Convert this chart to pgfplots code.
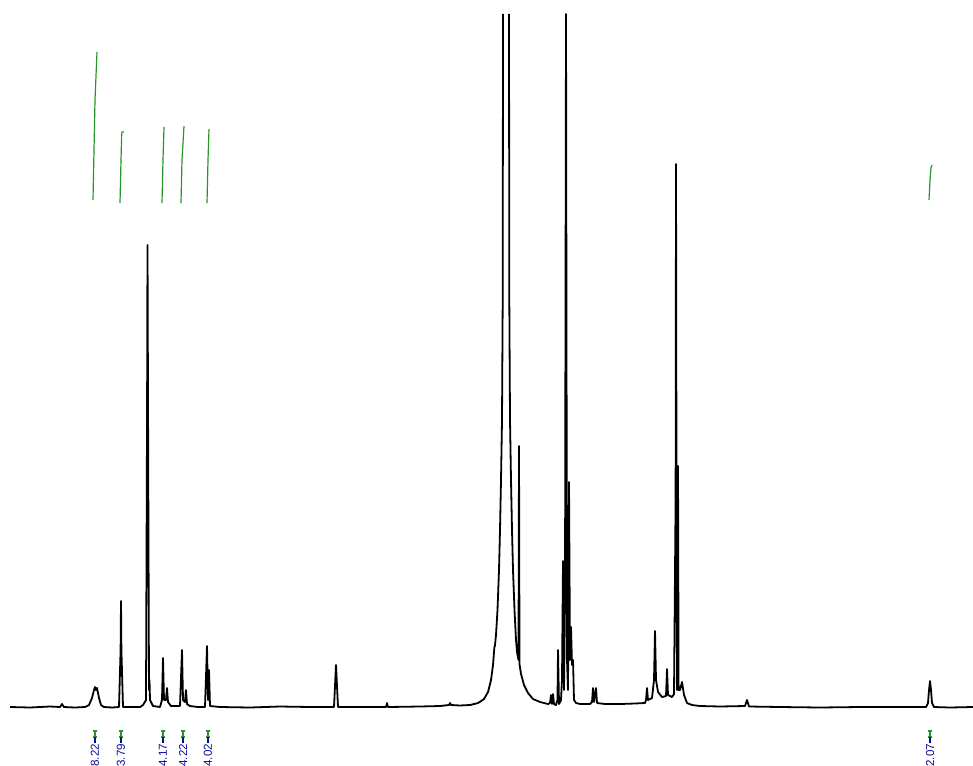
\documentclass[border=0pt]{standalone}
\usepackage{fontspec}
\setmainfont{Liberation Sans}
\usepackage{pgfplots}
\pgfplotsset{compat=1.18}
\definecolor{integ}{RGB}{40,150,40}
\definecolor{lab}{RGB}{10,10,150}
\begin{document}
\begin{tikzpicture}
\begin{axis}[
  scale only axis, width=486.5pt, height=382.5pt,
  xmin=0, xmax=973, ymin=0, ymax=765, y dir=reverse,
  axis lines=none, clip=false,
]
% spectrum, left of the solvent peak
\addplot[black, line width=0.9pt, line join=round] coordinates {
(10,707)(30,707.5)(50,706.5)(60,707)(62,704)(64,707)(75,707.5)(85,707)(89,705)(92,698)(94,690)(95,687)(96,690)(97,688)(99,698)(101,705)(104,707)
(112,707.5)(119,707)(120.6,650)(121,601)(121.4,650)(123,707)(135,707)(140,707)(143,705)(146,700)(147.1,400)(147.5,245)(148,400)(149,690)(149.5,680)(150,700)(153,706)(160,707)
(162,700)(163,658)(164,700)(166,700)(167,688)(168,702)(171,706)(180,706)(182,650)(183,700)(185,702)(186,690)(187,704)(190,706)(198,707)(205,707)(207,646)(208,700)(209,670)(210,706)(220,707)
(250,707.5)(280,706.5)(310,707)(334,707)(336,665)(338,707)(360,707)(386,707)(387,703)(388,707)(420,706.5)(440,706)(449,705)(450,703)(451,705)(460,705.5)(470,705)(478,703)(484,699)(488,692)(491,680)(493,665)(494.3,648)(495,645)(496,635)(497.5,610)(499,570)(500,530)(501,480)(502,420)(502.7,300)(503,14)
};
% spectrum, right of the solvent peak
\addplot[black, line width=0.9pt, line join=round] coordinates {
(509,14)(509.3,300)(510,420)(511,480)(512,530)(513,570)(514.5,610)(516,640)(517,652)(518.5,660)(519,446)(519.5,664)(521,674)(524,685)(528,693)(533,699)(540,702)(548,704)
(550,703)(551,695)(552,704)(553,694)(554,704)(556,705)(557.5,700)(558,650)(559,704)(561,700)(562,680)(563,561)(564,690)(565,600)(566,14)(567,660)(568,690)(569,482)(570,660)(571,627)(572,665)(573,660)(574,700)(576,703)(580,704)
(590,704)(592,702)(593,688)(594,702)(596,688)(597,703)(605,704)(620,704)(635,703.5)(645,703)(646,700)(647,688)(648,700)(652,698)(654,680)(655,631)(656,680)(658,692)(662,697)(666,696)(667,669)(668,695)(672,697)(674,694)(675.6,500)(676,164)(676.5,500)(677,690)(677.6,600)(678,466)(678.6,690)(680,690)(681,686)(682,682)(684,695)(687,703)(692,705)(700,706)
(720,706.5)(745,706)(747,700)(749,706.5)(780,707)(820,707.5)(860,707)(900,707)(926,707)(928,703)(929,690)(930,681)(931,690)(932,703)(934,707)(950,707.5)(973,707)
};
% integrals
\addplot[integ, line width=0.6pt] coordinates {(93,200)(94,150)(95,100)(97,52)};
\addplot[integ, line width=0.6pt] coordinates {(120,203)(121,160)(121.7,134)(122,132)(124,132)};
\addplot[integ, line width=0.6pt] coordinates {(162,203)(163,160)(164,127)};
\addplot[integ, line width=0.6pt] coordinates {(181,203)(182,160)(184,126)};
\addplot[integ, line width=0.6pt] coordinates {(207,203)(208,160)(209,129)};
\addplot[integ, line width=0.6pt] coordinates {(929,200)(930,180)(931,168)(932,165)};
% integral range markers
\foreach \xx/\vv in {95/8.22,121/3.79,163/4.17,183/4.22,208/4.02,930/2.07}{
  \edef\tmp{\noexpand\addplot[integ, line width=0.6pt] coordinates {(\xx-2,731)(\xx+2,731)(\xx,731)(\xx,737)(\xx-2,737)(\xx+2,737)};
  \noexpand\addplot[lab, line width=0.6pt] coordinates {(\xx,737)(\xx,743)};
  \noexpand\node[lab, rotate=90, anchor=east, inner sep=0pt, font=\noexpand\fontsize{5.8}{6}\noexpand\selectfont] at (axis cs:\xx,743.5) {\vv};}
  \tmp
}
\coordinate (bl) at (rel axis cs:0,0);
\coordinate (tr) at (rel axis cs:1,1);
\end{axis}
\pgfresetboundingbox
\path[use as bounding box] (bl) rectangle (tr);
\end{tikzpicture}
\end{document}
